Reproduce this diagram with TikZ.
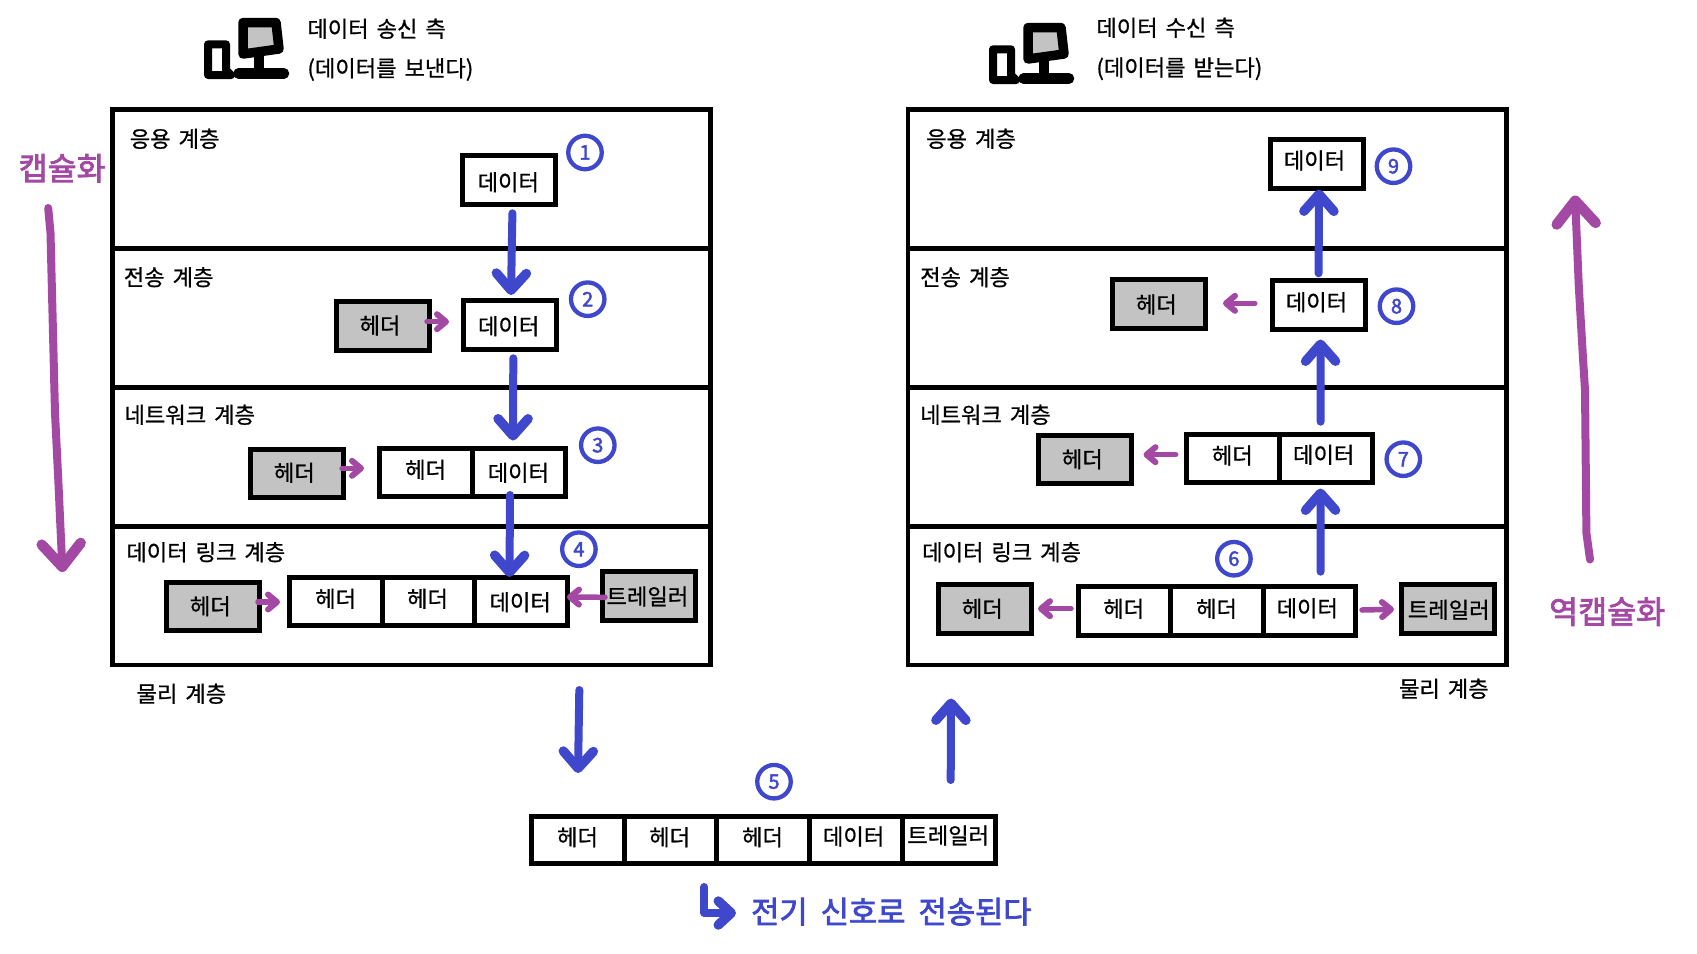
\documentclass[tikz,border=0pt]{standalone}
\usepackage{fontspec}
\setmainfont[WordSpace=1.6,FakeBold=0.8]{Noto Sans CJK KR}
\newfontfamily\krstrong[WordSpace=1.9,FakeBold=2.4]{Noto Sans CJK KR}
\usetikzlibrary{arrows.meta}
\definecolor{blu}{HTML}{3F48CC}
\definecolor{pur}{HTML}{A349A4}
\definecolor{gry}{HTML}{C3C3C3}
\tikzset{
  layerbox/.style={draw=black,line width=4.8pt,inner sep=0pt,outer sep=0pt},
  cellbox/.style={draw=black,fill=white,line width=5pt,inner sep=0pt,outer sep=0pt},
  graybox/.style={cellbox,fill=gry},
  lbl/.style={anchor=west,inner sep=0pt,yshift=-0.5pt,font=\fontsize{22.2}{26}\selectfont},
  celltxt/.style={inner sep=0pt,yshift=-0.5pt,font=\fontsize{22.2}{26}\selectfont},
  numc/.style={circle,draw=blu,line width=4.3pt,minimum size=33.5pt,inner sep=0pt,text=blu,font=\krstrong\fontsize{20}{22}\selectfont},
  bigtxt/.style={anchor=west,inner sep=0pt,font=\krstrong\fontsize{31.5}{34}\selectfont},
  sigtxt/.style={anchor=west,inner sep=0pt,font=\krstrong\fontsize{30.7}{34}\selectfont},
  bluearr/.style={draw=blu,line width=8pt,line cap=round,line join=round,-{Straight Barb[length=17pt,width=30pt,line width=9.5pt,round]}},
  purarr/.style={draw=pur,line width=5.5pt,line cap=round,line join=round,-{Straight Barb[length=9pt,width=15pt,line width=6pt,round]}},
  bigarr/.style={draw=pur,line width=8pt,line cap=round,line join=round,-{Straight Barb[length=23pt,width=39pt,line width=10.5pt,round]}},
}
\newcommand\bx[6]{\pgfmathsetmacro\wv{#4-#2}\pgfmathsetmacro\hv{#5-#3}%
  \node[#6,minimum width=\wv pt,minimum height=\hv pt] (#1) at ({(#2+#4)/2},{(#3+#5)/2}) {};}
\newcommand\pcicon[1]{%
  \begin{scope}[shift={#1}]
    \draw[black,line width=8pt,line join=round] (208,44.3) -- (226,44.3) -- (226,70) -- (231,75) -- (208,75) -- cycle;
    \draw[black,fill=gry,line width=9.5pt,line join=round] (243,22.5) -- (276,22.5) -- (279,49) -- (243,54) -- cycle;
    \draw[black,line width=10pt] (258.5,52) -- (258.5,72);
    \draw[black,line width=10.5pt,line cap=round] (238.5,73.5) -- (284,73.5);
  \end{scope}}
\begin{document}
\begin{tikzpicture}[x=1pt,y=-1pt]
\useasboundingbox (0,0) rectangle (1697,953);
% icons
\pcicon{(0,0)}
\pcicon{(785,5)}
% side labels
\node[lbl] (sendA) at (307.2,28.3) {데이터 송신 측};
\node[lbl] (sendB) at (307.2,69) {(데이터를 보낸다)};
\node[lbl] (recvA) at (1096.2,27.3) {데이터 수신 측};
\node[lbl] (recvB) at (1096.2,68.3) {(데이터를 받는다)};
% left layers
\bx{La}{112.5}{109.3}{710.7}{248.3}{layerbox}
\bx{Lb}{112.5}{248.3}{710.7}{387.3}{layerbox}
\bx{Lc}{112.5}{387.3}{710.7}{526.3}{layerbox}
\bx{Ld}{112.5}{526.3}{710.7}{665}{layerbox}
% right layers
\bx{Ra}{907.9}{109.3}{1506.3}{248.3}{layerbox}
\bx{Rb}{907.9}{248.3}{1506.3}{387.3}{layerbox}
\bx{Rc}{907.9}{387.3}{1506.3}{526.3}{layerbox}
\bx{Rd}{907.9}{526.3}{1506.3}{665}{layerbox}
% layer labels
\node[lbl] (tLa) at (129.6,138.3) {응용 계층};
\node[lbl] (tLb) at (123.6,276.7) {전송 계층};
\node[lbl] (tLc) at (124.3,414.3) {네트워크 계층};
\node[lbl] (tLd) at (126.2,551.7) {데이터 링크 계층};
\node[lbl] (tLe) at (136.4,693.3) {물리 계층};
\node[lbl] (tRa) at (926,138.3) {응용 계층};
\node[lbl] (tRb) at (920,276.7) {전송 계층};
\node[lbl] (tRc) at (920,414.3) {네트워크 계층};
\node[lbl] (tRd) at (922,551.7) {데이터 링크 계층};
\node[lbl] (tRe) at (1398.8,688.3) {물리 계층};
% left boxes
\bx{b1}{462.4}{155.7}{555.6}{204}{cellbox}
\node[celltxt] (t1) at (508.3,181.7) {데이터};
\bx{g2}{336}{301.7}{429.8}{350}{graybox}
\node[celltxt] (tg2) at (380,325) {헤더};
\bx{b2}{463.3}{300.7}{556.5}{349.3}{cellbox}
\node[celltxt] (t2) at (508.7,325.7) {데이터};
\bx{g3}{250.7}{449}{343.9}{497}{graybox}
\node[celltxt] (tg3) at (294.3,472.3) {헤더};
\bx{c3a}{379.2}{448}{472.5}{496}{cellbox}
\bx{c3b}{472.5}{448}{565.7}{496}{cellbox}
\node[celltxt] (t3a) at (425.6,469.3) {헤더};
\node[celltxt] (t3b) at (518.4,472.3) {데이터};
\bx{g4}{166.2}{582}{259.9}{630}{graybox}
\node[celltxt] (tg4) at (210.3,605.7) {헤더};
\bx{c4a}{289.3}{577.3}{382}{625}{cellbox}
\bx{c4b}{382}{577.3}{474.3}{625}{cellbox}
\bx{c4c}{474.3}{577.3}{567.5}{625}{cellbox}
\node[celltxt] (t4a) at (335.6,598.3) {헤더};
\node[celltxt] (t4b) at (427.5,598.3) {헤더};
\node[celltxt] (t4c) at (520.2,601.7) {데이터};
\bx{tr4}{602.4}{571.7}{695.6}{620}{graybox}
\node[celltxt] (ttr4) at (647.4,596) {트레일러};
% bottom row
\bx{p1}{531}{816}{624}{863}{cellbox}
\bx{p2}{624}{816}{716.4}{863}{cellbox}
\bx{p3}{716.4}{816}{809.6}{863}{cellbox}
\bx{p4}{809.6}{816}{902.5}{863}{cellbox}
\bx{p5}{902.5}{816}{995.4}{863}{cellbox}
\node[celltxt] (tp1) at (577.5,836.7) {헤더};
\node[celltxt] (tp2) at (669.6,836.7) {헤더};
\node[celltxt] (tp3) at (762.5,836.7) {헤더};
\node[celltxt] (tp4) at (853.6,836) {데이터};
\node[celltxt] (tp5) at (948.2,835) {트레일러};
% right boxes
\bx{b9}{1270}{139.7}{1363.5}{188.3}{cellbox}
\node[celltxt] (t9) at (1314.5,160) {데이터};
\bx{b8}{1272.7}{280.7}{1365.5}{329.3}{cellbox}
\node[celltxt] (t8) at (1316.5,301.7) {데이터};
\bx{g8}{1112.4}{279.7}{1205.3}{328.3}{graybox}
\node[celltxt] (tg8) at (1156.3,304) {헤더};
\bx{g7}{1038.5}{435}{1131.3}{483.3}{graybox}
\node[celltxt] (tg7) at (1082.3,458.7) {헤더};
\bx{c7a}{1186}{434}{1279.3}{482}{cellbox}
\bx{c7b}{1279.3}{434}{1372}{482}{cellbox}
\node[celltxt] (t7a) at (1232.3,455) {헤더};
\node[celltxt] (t7b) at (1323.7,454.3) {데이터};
\bx{g6}{938.5}{584.7}{1031.3}{633.3}{graybox}
\node[celltxt] (tg6) at (982.3,608.3) {헤더};
\bx{c6a}{1078.8}{586.7}{1170.6}{635}{cellbox}
\bx{c6b}{1170.6}{586.7}{1263.5}{635}{cellbox}
\bx{c6c}{1263.5}{586.7}{1355.3}{635}{cellbox}
\node[celltxt] (t6a) at (1123.7,608.3) {헤더};
\node[celltxt] (t6b) at (1216.5,608.3) {헤더};
\node[celltxt] (t6c) at (1307.3,607.7) {데이터};
\bx{tr6}{1401.7}{584.7}{1494.6}{633.3}{graybox}
\node[celltxt] (ttr6) at (1448.7,609.3) {트레일러};
% step numbers
\node[numc] (n1) at (585,152.5) {1};
\node[numc] (n2) at (587.7,299.2) {2};
\node[numc] (n3) at (597.8,445.2) {3};
\node[numc] (n4) at (578.9,549.2) {4};
\node[numc] (n5) at (774,781.7) {5};
\node[numc] (n6) at (1233.9,558.7) {6};
\node[numc] (n7) at (1403.3,459.2) {7};
\node[numc] (n8) at (1396.5,306.2) {8};
\node[numc] (n9) at (1393.5,166.2) {9};
% big texts
\node[bigtxt,text=pur] (enc) at (18.5,168.3) {캡슐화};
\node[bigtxt,text=pur] (dec) at (1549,611.7) {역캡슐화};
\node[sigtxt,text=blu] (sig) at (751,911.7) {전기 신호로 전송된다};
% arrow ends
\coordinate (a1s) at (512.4,213.3);  \coordinate (a1e) at (511,295);
\coordinate (a2s) at (513.3,358.3);  \coordinate (a2e) at (513,440.5);
\coordinate (a3s) at (510,495);      \coordinate (a3e) at (509.5,577);
\coordinate (a4s) at (579.3,690);    \coordinate (a4e) at (578,773);
\coordinate (a5s) at (950.7,780);    \coordinate (a5e) at (951,698.5);
\coordinate (a6s) at (1320.6,571.7); \coordinate (a6e) at (1320.5,488.5);
\coordinate (a7s) at (1320.6,421.7); \coordinate (a7e) at (1320.5,339.5);
\coordinate (a8s) at (1318.6,273.3); \coordinate (a8e) at (1319,189.5);
\foreach \i in {1,...,8} {\draw[bluearr] (a\i s) -- (a\i e);}
% purple small
\coordinate (q2s) at (427,321.7);   \coordinate (q2e) at (449,321.7);
\coordinate (q3s) at (342,468.3);   \coordinate (q3e) at (364,468.3);
\coordinate (q4s) at (258,602);     \coordinate (q4e) at (280,602);
\coordinate (q5s) at (605,597.3);   \coordinate (q5e) at (567,597);
\coordinate (q6s) at (1254.8,303.3);\coordinate (q6e) at (1223,303.3);
\coordinate (q7s) at (1175.7,454.7);\coordinate (q7e) at (1143.5,454.7);
\coordinate (q8s) at (1071,608.7);  \coordinate (q8e) at (1038,608.7);
\coordinate (q9s) at (1362,610);    \coordinate (q9e) at (1394,609.3);
\foreach \i in {2,...,9} {\draw[purarr] (q\i s) -- (q\i e);}
% big purple
\coordinate (e0) at (48.2,208); \coordinate (e1) at (50.5,233); \coordinate (e2) at (54,373);
\coordinate (e3) at (55,413); \coordinate (e4) at (58.3,480); \coordinate (e5) at (62.5,572);
\draw[bigarr] (e0) -- (e1) -- (e2) -- (e3) -- (e4) -- (e5);
\coordinate (d0) at (1590,559.5); \coordinate (d1) at (1586.4,533); \coordinate (d2) at (1585,390);
\coordinate (d3) at (1582.9,356.7); \coordinate (d4) at (1578.8,286.7); \coordinate (d5) at (1575,195.5);
\draw[bigarr] (d0) -- (d1) -- (d2) -- (d3) -- (d4) -- (d5);
% bent blue arrow
\coordinate (s0) at (704.3,887); \coordinate (s1) at (704.3,913); \coordinate (s2) at (736,913);
\draw[draw=blu,line width=8pt,line cap=round,line join=round,-{Straight Barb[length=13pt,width=24pt,line width=9.5pt,round]}] (s0) -- (s1) -- (s2);
\end{tikzpicture}
\end{document}
